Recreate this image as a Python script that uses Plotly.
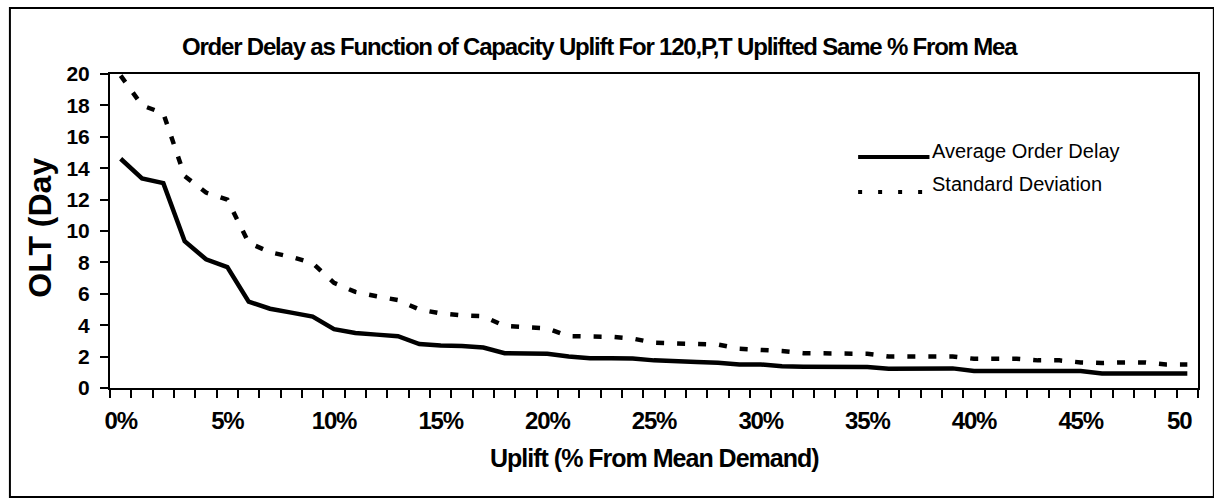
import plotly.graph_objects as go

# Capacity uplift, percent above mean demand (one category per percent)
uplift_pct = list(range(0, 51))
tick_vals = [0, 5, 10, 15, 20, 25, 30, 35, 40, 45, 50]
tick_text = ["0%", "5%", "10%", "15%", "20%", "25%", "30%", "35%", "40%", "45%",
             "50\u00a0\u00a0\u00a0"]

# Order lead time (days)
avg_order_delay = [14.6, 13.35, 13.05, 9.35, 8.2, 7.7, 5.5, 5.05, 4.8, 4.55,
                   3.75, 3.5, 3.4, 3.3, 2.8, 2.7, 2.68, 2.58, 2.22, 2.22,
                   2.18, 2.0, 1.9, 1.9, 1.88, 1.76, 1.67, 1.65, 1.61, 1.5,
                   1.5, 1.38, 1.36, 1.36, 1.36, 1.33, 1.23, 1.23, 1.23, 1.25,
                   1.08, 1.08, 1.08, 1.08, 1.12, 1.08, 0.92, 0.93, 0.93, 0.93,
                   0.93]
std_deviation = [19.9, 18.0, 17.5, 13.5, 12.45, 12.0, 9.25, 8.65, 8.35, 7.95,
                 6.7, 6.12, 5.84, 5.6, 5.0, 4.75, 4.62, 4.57, 3.95, 3.84,
                 3.8, 3.3, 3.28, 3.26, 3.15, 2.88, 2.84, 2.84, 2.77, 2.5,
                 2.46, 2.35, 2.22, 2.22, 2.22, 2.18, 2.01, 1.99, 1.99, 2.01,
                 1.86, 1.86, 1.86, 1.76, 1.76, 1.63, 1.59, 1.63, 1.63, 1.5,
                 1.5]

W, H = 1214, 501
L, R, T, B = 110, 6, 74, 113
PW, PH = W - L - R, H - T - B


def xp(px):
    return (px - L) / PW


def yp(py):
    return (H - B - py) / PH


def tight(text, spacing):
    return f'<span style="letter-spacing:{spacing}px">{text}</span>'


SANS = "Liberation Sans, Arial, sans-serif"

fig = go.Figure()
fig.add_trace(go.Scatter(
    x=uplift_pct, y=avg_order_delay, mode="lines", name="Average Order Delay",
    line=dict(color="black", width=4.5), showlegend=False,
))
fig.add_trace(go.Scatter(
    x=uplift_pct, y=std_deviation, mode="lines", name="Standard Deviation",
    line=dict(color="black", width=4.5, dash="8px,13px"), showlegend=False,
))

shapes = [
    # outer chart frame
    dict(type="rect", xref="paper", yref="paper", x0=xp(9), x1=xp(W + 10),
         y0=yp(497), y1=yp(8), line=dict(color="black", width=2)),
    # legend keys
    dict(type="line", xref="paper", yref="paper", x0=xp(865), x1=xp(937),
         y0=yp(157), y1=yp(157), line=dict(color="black", width=4)),
    dict(type="line", xref="paper", yref="paper", x0=xp(865), x1=xp(937),
         y0=yp(192), y1=yp(192), line=dict(color="black", width=4, dash="4px,16px")),
]

annotations = [
    dict(text=tight("<b>Order Delay as Function of Capacity Uplift For 120,P,T Uplifted Same % From Mea</b>", -1.2),
         xref="paper", yref="paper", x=xp(605), y=yp(46), xanchor="center", yanchor="middle",
         showarrow=False, font=dict(family=SANS, size=24, color="black")),
    dict(text="<b>OLT (Day</b>", xref="paper", yref="paper", x=xp(39), y=yp(228),
         xanchor="center", yanchor="middle", textangle=-90, showarrow=False,
         font=dict(family=SANS, size=32, color="black")),
    dict(text=tight("<b>Uplift (% From Mean Demand)</b>", -1), xref="paper", yref="paper",
         x=xp(659), y=yp(458), xanchor="center", yanchor="middle", showarrow=False,
         font=dict(family=SANS, size=25, color="black")),
    dict(text="Average Order Delay", xref="paper", yref="paper", x=xp(938), y=yp(151),
         xanchor="left", yanchor="middle", showarrow=False,
         font=dict(family=SANS, size=20, color="black")),
    dict(text="Standard Deviation", xref="paper", yref="paper", x=xp(938), y=yp(184),
         xanchor="left", yanchor="middle", showarrow=False,
         font=dict(family=SANS, size=20, color="black")),
]

fig.update_layout(
    width=W, height=H,
    margin=dict(l=L, r=R, t=T, b=B, pad=0),
    paper_bgcolor="white", plot_bgcolor="white",
    shapes=shapes, annotations=annotations,
    xaxis=dict(
        range=[-0.5, 50.5], tickmode="array", tickvals=tick_vals,
        ticktext=[tight(t, -1.2) for t in tick_text],
        ticks="outside", ticklen=8, tickcolor="rgba(0,0,0,0)", ticklabelstandoff=2,
        ticklabeloverflow="allow",
        tickfont=dict(family=SANS, size=24, color="black", weight="bold"),
        minor=dict(tickmode="array", tickvals=[v - 0.5 for v in uplift_pct] + [50.5],
                   ticks="outside", ticklen=8, tickwidth=2, tickcolor="black"),
        showline=True, linecolor="black", linewidth=2, mirror=True,
        showgrid=False, zeroline=False, fixedrange=True,
    ),
    yaxis=dict(
        range=[0, 20], tickmode="linear", tick0=0, dtick=2,
        ticks="outside", ticklen=8, tickwidth=2, tickcolor="black", ticklabelstandoff=6,
        tickfont=dict(family=SANS, size=21, color="black", weight="bold"),
        showline=True, linecolor="black", linewidth=2, mirror=True,
        showgrid=False, zeroline=False, fixedrange=True,
    ),
)

fig.write_html("out.html")
